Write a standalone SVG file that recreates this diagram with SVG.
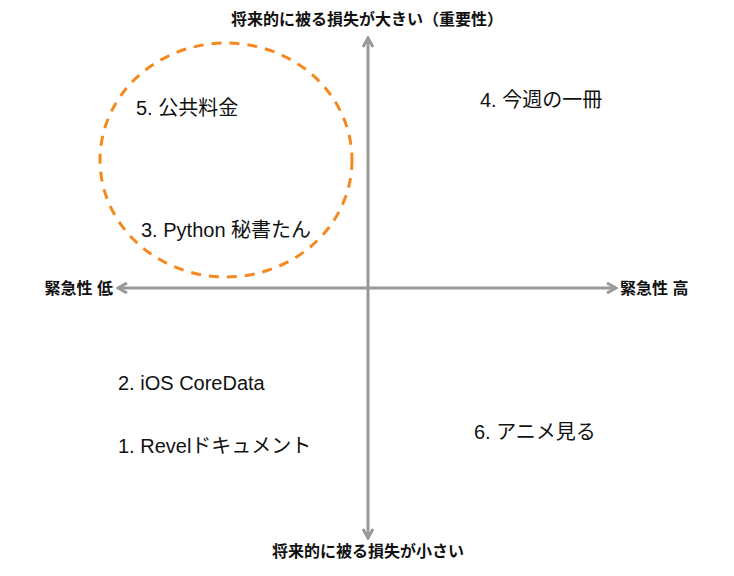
<svg xmlns="http://www.w3.org/2000/svg" width="734" height="576" viewBox="0 0 734 576">
<style>
.lbl{font-family:"Liberation Sans","Noto Sans CJK JP",sans-serif;font-size:16px;font-weight:bold;fill:#111}
.item{font-family:"Liberation Sans","Noto Sans CJK JP",sans-serif;font-size:20px;fill:#111}
.axis{stroke:#999;stroke-width:3;fill:none}
</style>
<defs>
<marker id="arr" viewBox="0 0 12 12" refX="10" refY="6" markerWidth="12" markerHeight="12" markerUnits="userSpaceOnUse" orient="auto">
<path d="M1,1 L10,6 L1,11" fill="none" stroke="#999" stroke-width="3"/>
</marker>
</defs>
<rect width="734" height="576" fill="#fff"/>
<g id="connectors">
<line class="axis" x1="368" y1="288" x2="368" y2="38" marker-end="url(#arr)"/>
<line class="axis" x1="368" y1="288" x2="368" y2="538" marker-end="url(#arr)"/>
<line class="axis" x1="368" y1="288" x2="118" y2="288" marker-end="url(#arr)"/>
<line class="axis" x1="368" y1="288" x2="616" y2="288" marker-end="url(#arr)"/>
</g>
<g id="circle"><ellipse cx="226" cy="160" rx="126" ry="117" fill="none" stroke="#f5891f" stroke-width="3" stroke-dasharray="10,8"/></g>
<g id="top"><text class="lbl" x="367" y="25" text-anchor="middle">将来的に被る損失が大きい（重要性）</text></g>
<g id="bottom"><text class="lbl" x="368" y="557" text-anchor="middle">将来的に被る損失が小さい</text></g>
<g id="left"><text class="lbl" x="113" y="294" text-anchor="end">緊急性 低</text></g>
<g id="right"><text class="lbl" x="620" y="294">緊急性 高</text></g>
<g id="n5"><text class="item" x="136" y="115">5. 公共料金</text></g>
<g id="n3"><text class="item" x="141" y="237">3. Python 秘書たん</text></g>
<g id="n4"><text class="item" x="480" y="107">4. 今週の一冊</text></g>
<g id="n2"><text class="item" x="118" y="390">2. iOS CoreData</text></g>
<g id="n1"><text class="item" x="118" y="453">1. Revelドキュメント</text></g>
<g id="n6"><text class="item" x="474" y="439">6. アニメ見る</text></g>
</svg>
